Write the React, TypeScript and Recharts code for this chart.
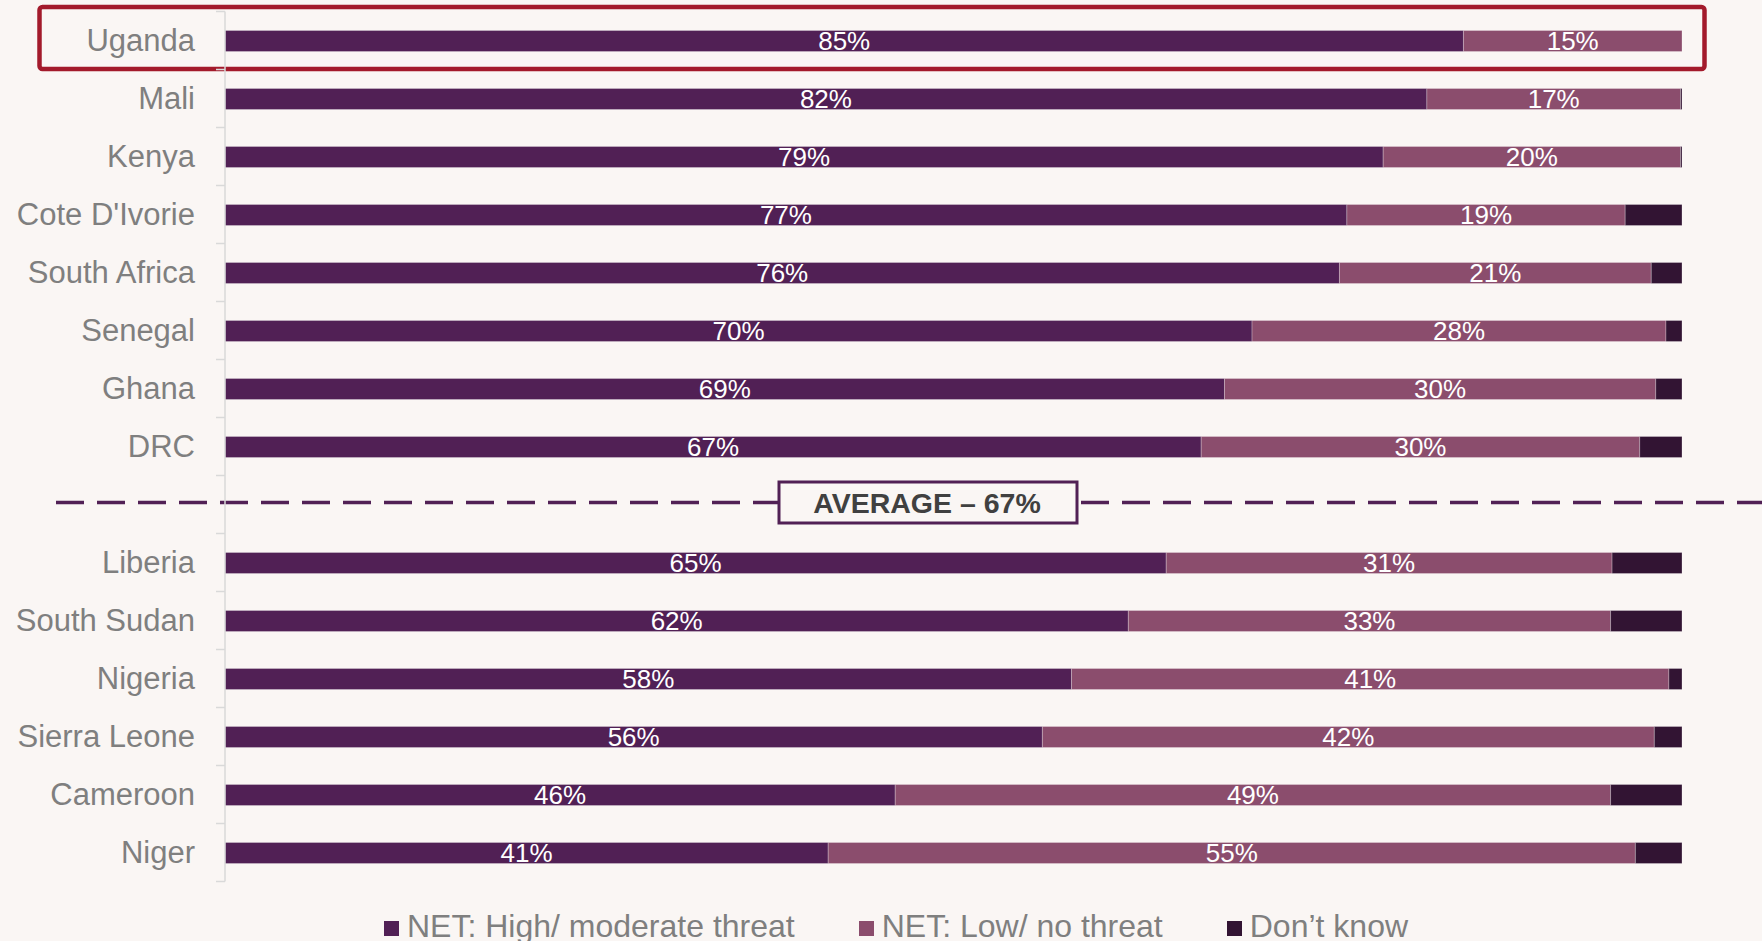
import React from "react";
import {
  BarChart,
  Bar,
  XAxis,
  YAxis,
  LabelList,
  Legend,
  ReferenceLine,
  ReferenceArea,
} from "recharts";

// ---------- data ----------
const categories = [
  "Uganda",
  "Mali",
  "Kenya",
  "Cote D'Ivorie",
  "South Africa",
  "Senegal",
  "Ghana",
  "DRC",
  " ",
  "Liberia",
  "South Sudan",
  "Nigeria",
  "Sierra Leone",
  "Cameroon",
  "Niger",
];
const highModerate = [85, 82.49, 79.49, 77.0, 76.49, 70.49, 68.6, 67.0, null, 64.6, 62.0, 58.1, 56.1, 46.0, 41.4];
const lowNone = [15, 17.41, 20.41, 19.1, 21.4, 28.41, 29.6, 30.1, null, 30.6, 33.1, 41.0, 42.0, 49.1, 55.4];
const dontKnow = [0, 0.1, 0.1, 3.9, 2.11, 1.1, 1.8, 2.9, null, 4.8, 4.9, 0.9, 1.9, 4.9, 3.2];
const seriesNames = ["NET: High/ moderate threat", "NET: Low/ no threat", "Don\u2019t know"];
const highlightCategory = "Uganda";
const averageCategory = " ";
const averageLabel = "AVERAGE \u2013 67%";

const data = categories.map((c, i) => ({
  country: c,
  high: highModerate[i],
  low: lowNone[i],
  dk: dontKnow[i],
}));

// ---------- style ----------
const W = 1762;
const H = 941;
const BG = "#faf6f4";
const C_HIGH = "#512055";
const C_LOW = "#8b4d6d";
const C_DK = "#321433";
const GRAY = "#7f7f7f";
const FONT = '"Liberation Sans", Arial, sans-serif';
const MARGIN = { top: 11.5, right: 80, bottom: 23.5, left: 0 };
const LEGEND_H = 36;
const PLOT_H = H - MARGIN.top - MARGIN.bottom - LEGEND_H;
const BAND = PLOT_H / categories.length;
const LABEL_GAP = 31;

const fmt = (v: any) => (v === null || v === undefined ? "" : `${Math.round(Number(v))}%`);

const YTick = (props: any) => {
  const { x, y, payload, index } = props;
  const axisX = x + LABEL_GAP;
  return (
    <g>
      <line x1={axisX - 9} x2={axisX} y1={y - BAND / 2} y2={y - BAND / 2} stroke="#d9d9d9" strokeWidth={1.5} />
      {index === categories.length - 1 && (
        <line x1={axisX - 9} x2={axisX} y1={y + BAND / 2} y2={y + BAND / 2} stroke="#d9d9d9" strokeWidth={1.5} />
      )}
      <text
        x={x + 1}
        y={y}
        dy={0}
        textAnchor="end"
        dominantBaseline="central"
        fontSize={31}
        fontFamily={FONT}
        fill={GRAY}
      >
        {payload.value}
      </text>
    </g>
  );
};

const renderLegend = (props: any) => {
  const payload = [...(props.payload || [])].sort(
    (a: any, b: any) => seriesNames.indexOf(a.value) - seriesNames.indexOf(b.value)
  );
  return (
    <div
      style={{
        display: "flex",
        justifyContent: "center",
        alignItems: "center",
        height: LEGEND_H,
        lineHeight: `${LEGEND_H}px`,
        paddingLeft: 30,
        gap: 64,
        fontFamily: FONT,
        fontSize: 32,
        color: GRAY,
      }}
    >
      {payload.map((p: any) => (
        <div key={p.value} style={{ display: "flex", alignItems: "center" }}>
          <span style={{ width: 15, height: 15, background: p.color, marginRight: 8, display: "inline-block", position: "relative", top: 2 }} />
          <span style={{ whiteSpace: "nowrap" }}>{p.value}</span>
        </div>
      ))}
    </div>
  );
};

const AverageShape = (p: any) => {
  const y = p.y1 - 2;
  const boxX = p.x1 + 554;
  const boxW = 298;
  const boxH = 41;
  return (
    <g>
      <line
        x1={p.x1 - 169}
        x2={p.x2 + 80}
        y1={y}
        y2={y}
        stroke={C_HIGH}
        strokeWidth={3.5}
        strokeDasharray="28 13"
      />
      <rect x={boxX} y={y - boxH / 2} width={boxW} height={boxH} fill={BG} stroke={C_HIGH} strokeWidth={3} />
      <text
        x={boxX + boxW / 2 - 1}
        y={y}
        textAnchor="middle"
        dominantBaseline="central"
        fontFamily={FONT}
        fontWeight="bold"
        fontSize={28.5}
        fill="#404040"
      >
        {averageLabel}
      </text>
    </g>
  );
};

const HighlightShape = (p: any) => (
  <rect
    x={p.x - 185.5}
    y={p.y - 4.5}
    width={p.width + 208}
    height={p.height + 4}
    rx={3}
    ry={3}
    fill="none"
    stroke="#a31a2b"
    strokeWidth={4.5}
  />
);

export default function App() {
  return (
    <div style={{ position: "absolute", left: 0, top: 0, width: W, height: H, background: BG, overflow: "hidden" }}>
      <BarChart width={W} height={H} data={data} layout="vertical" margin={MARGIN} barSize={21}>
        <XAxis type="number" domain={[0, 100]} hide />
        <YAxis
          type="category"
          dataKey="country"
          width={225}
          axisLine={{ stroke: "#d9d9d9", strokeWidth: 1.5 }}
          tickLine={false}
          tickSize={0}
          tickMargin={LABEL_GAP}
          tick={<YTick />}
          interval={0}
        />
        <Bar dataKey="high" name={seriesNames[0]} stackId="a" fill={C_HIGH} stroke="#ffffff" strokeOpacity={0.35} strokeWidth={0.75} isAnimationActive={false}>
          <LabelList dataKey="high" position="center" formatter={fmt} fill="#ffffff" fontSize={26} fontFamily={FONT} />
        </Bar>
        <Bar dataKey="low" name={seriesNames[1]} stackId="a" fill={C_LOW} stroke="#ffffff" strokeOpacity={0.35} strokeWidth={0.75} isAnimationActive={false}>
          <LabelList dataKey="low" position="center" formatter={fmt} fill="#ffffff" fontSize={26} fontFamily={FONT} />
        </Bar>
        <Bar dataKey="dk" name={seriesNames[2]} stackId="a" fill={C_DK} stroke="#ffffff" strokeOpacity={0.35} strokeWidth={0.75} isAnimationActive={false} />
        <ReferenceLine y={averageCategory} ifOverflow="visible" shape={AverageShape} />
        <ReferenceArea y1={highlightCategory} y2={highlightCategory} ifOverflow="visible" shape={HighlightShape} />
        <Legend
          verticalAlign="bottom"
          align="center"
          content={renderLegend}
          wrapperStyle={{ top: 908, left: 0, width: W, height: LEGEND_H }}
        />
      </BarChart>
    </div>
  );
}
